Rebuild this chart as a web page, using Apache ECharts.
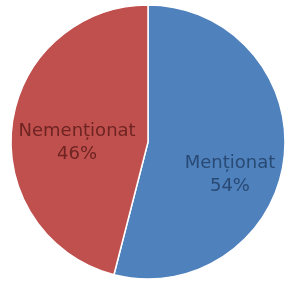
<!DOCTYPE html>
<html>
<head>
<meta charset="utf-8">
<script src="https://cdn.jsdelivr.net/npm/echarts@6/dist/echarts.min.js"></script>
<style>
  html, body { margin: 0; padding: 0; background: #fff; }
  #chart { width: 285px; height: 283px; }
</style>
</head>
<body>
<div id="chart"></div>
<script>
// categories and values
const categories = ['Menționat', 'Nemenționat'];
const values = [54, 46];
const colors = ['#4F81BD', '#C0504D'];
const labelColors = ['#284a74', '#6e2422'];

const chart = echarts.init(document.getElementById('chart'));

const option = {
  animation: false,
  series: [
    {
      type: 'pie',
      center: [148, 142],
      radius: [0, 137],
      startAngle: 90,
      clockwise: true,
      percentPrecision: 0,
      data: categories.map((name, i) => ({
        name,
        value: values[i],
        itemStyle: { color: colors[i] },
        label: { color: labelColors[i] }
      })),
      itemStyle: {
        borderColor: '#fff',
        borderWidth: 1.5
      },
      label: {
        show: true,
        position: 'inside',
        formatter: '{b}\n{d}%',
        fontFamily: 'DejaVu Sans',
        fontSize: 18,
        lineHeight: 23
      },
      labelLine: { show: false },
      // nudge labels toward where they sit in the original
      labelLayout: function (params) {
        return params.dataIndex === 0 ? { dx: 11, dy: 24 } : { dx: 0, dy: 10 };
      }
    }
  ]
};

chart.setOption(option);
</script>
</body>
</html>
